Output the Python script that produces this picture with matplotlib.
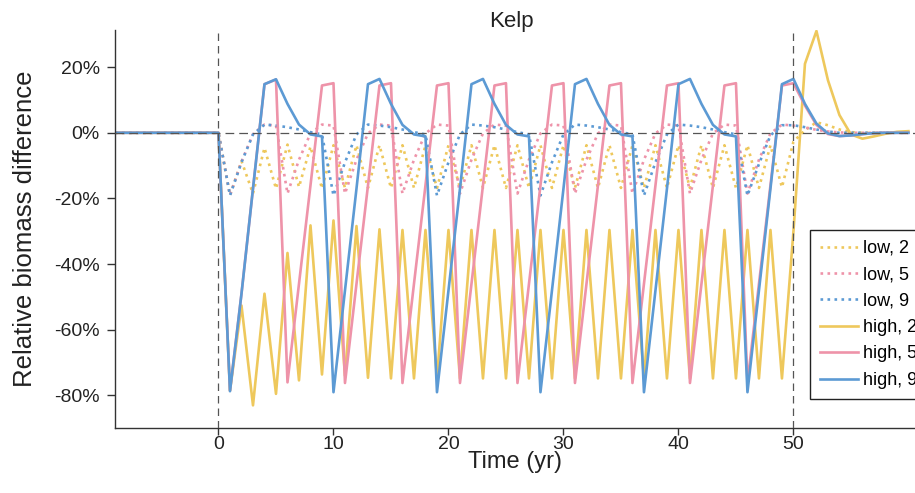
import matplotlib
matplotlib.use("Agg")
import matplotlib.pyplot as plt
from matplotlib.ticker import FuncFormatter

plt.rcParams['font.family'] = ['Liberation Sans', 'DejaVu Sans']

# years -9 .. 60
years = list(range(-9, 61))

# relative biomass difference (%)
pre = [0, 0, 0, 0, 0, 0, 0, 0, 0]

low_2 = pre + [0, -19.0, -8.6, -18.5, -4.6, -17.0, -3.6, -16.5, -4.2, -17.0,
               -3.8, -16.8, -3.8, -16.8, -3.8, -16.8, -3.8, -16.8, -3.8, -16.8,
               -3.8, -16.8, -3.8, -16.8, -3.8, -16.8, -3.8, -16.8, -3.8, -16.8,
               -3.8, -16.8, -3.8, -16.8, -3.8, -16.8, -3.8, -16.8, -3.8, -16.8,
               -3.8, -16.8, -3.8, -16.8, -3.8, -16.8, -3.8, -16.8, -3.8, -16.6,
               -2.7, 0.8, 3.2, 2.3, 1.0, 0.2, 0.0, 0.0, 0.0, 0.0, 0.0]

low_5 = pre + [0, -19.0, -8.8, -0.4, 2.5, 2.2, -18.5, -8.2, -0.2, 2.5,
               2.2, -18.5, -8.2, -0.2, 2.5, 2.2, -18.5, -8.2, -0.2, 2.5,
               2.2, -18.5, -8.2, -0.2, 2.5, 2.2, -18.5, -8.2, -0.2, 2.5,
               2.2, -18.5, -8.2, -0.2, 2.5, 2.2, -18.5, -8.2, -0.2, 2.5,
               2.2, -18.5, -8.2, -0.2, 2.5, 2.2, -18.5, -8.2, -0.2, 2.5,
               2.2, 1.6, 0.9, 0.4, 0.1, 0.0, 0.0, 0.0, 0.0, 0.0, 0.0]

low_9 = pre + [0, -19.1, -9.0, -0.5, 2.5, 2.2, 1.7, 1.0, 0.2, -0.5,
               -19.1, -9.0, -0.5, 2.5, 2.2, 1.7, 1.0, 0.2, -0.5,
               -19.1, -9.0, -0.5, 2.5, 2.2, 1.7, 1.0, 0.2, -0.5,
               -19.1, -9.0, -0.5, 2.5, 2.2, 1.7, 1.0, 0.2, -0.5,
               -19.1, -9.0, -0.5, 2.5, 2.2, 1.7, 1.0, 0.2, -0.5,
               -19.1, -9.5, -0.8, 2.3, 2.3, 1.7, 1.0, 0.4, 0.0,
               0.0, 0.0, 0.0, 0.0, 0.0, 0.0]

high_2 = pre + [0, -78.5, -52.6, -83.0, -49.0, -79.5, -36.6, -75.4, -28.2, -73.6,
                -26.7, -74.0, -28.4, -74.6, -29.4, -74.8, -29.6, -74.8, -29.6, -74.8,
                -29.6, -74.8, -29.6, -74.8, -29.6, -74.8, -29.6, -74.8, -29.6, -74.8,
                -29.6, -74.8, -29.6, -74.8, -29.6, -74.8, -29.6, -74.8, -29.6, -74.8,
                -29.6, -74.8, -29.6, -74.8, -29.6, -74.8, -29.6, -74.8, -29.6, -74.8,
                -30.0, 21.0, 31.0, 16.0, 5.4, -0.5, -1.8, -1.1, -0.3, 0.3, 0.5]

high_5 = pre + [0, -78.5, -49.0, -17.0, 14.8, 16.2, -76.0, -46.0, -16.0, 14.4,
                15.1, -76.2, -46.0, -16.0, 14.4, 15.1, -76.2, -46.0, -16.0, 14.4,
                15.1, -76.2, -46.0, -16.0, 14.4, 15.1, -76.2, -46.0, -16.0, 14.4,
                15.1, -76.2, -46.0, -16.0, 14.4, 15.1, -76.2, -46.0, -16.0, 14.4,
                15.1, -76.2, -46.0, -16.0, 14.4, 15.1, -76.2, -46.0, -16.0, 14.4,
                15.1, 8.3, 2.4, -0.4, -1.0, -0.8, -0.4, -0.1, 0.0, 0.0, 0.0]

high_9 = pre + [0, -78.7, -49.0, -17.0, 14.8, 16.3, 8.8, 2.5, -0.5, -1.1,
                -79.0, -48.0, -17.0, 14.8, 16.4, 8.8, 2.4, -0.5, -1.1,
                -79.0, -48.0, -17.0, 14.8, 16.4, 8.8, 2.4, -0.5, -1.1,
                -79.0, -48.0, -17.0, 14.8, 16.4, 8.8, 2.4, -0.5, -1.1,
                -79.0, -48.0, -17.0, 14.8, 16.4, 8.8, 2.4, -0.5, -1.1,
                -79.0, -48.0, -17.0, 14.8, 16.4, 8.8, 2.8, -0.2, -1.0,
                -0.8, -0.4, -0.1, 0.0, 0.0, 0.0]

yellow = '#EEC85C'
pink = '#EE93A9'
blue = '#5C9AD4'

series = [
    ('low, 2', low_2, yellow, ':'),
    ('low, 5', low_5, pink, ':'),
    ('low, 9', low_9, blue, ':'),
    ('high, 2', high_2, yellow, '-'),
    ('high, 5', high_5, pink, '-'),
    ('high, 9', high_9, blue, '-'),
]

fig = plt.figure(figsize=(9.15, 4.93), dpi=100)
ax = fig.add_axes([115 / 915, 1 - 428 / 493, 800 / 915, (428 - 30) / 493])

for label, vals, col, ls in series:
    ax.plot(years, vals, color=col, linestyle=ls, linewidth=1.9, label=label)

dash_col = '#555555'
ax.axhline(0, color=dash_col, linewidth=0.9, dashes=(7, 4), zorder=5)
ax.axvline(0, color=dash_col, linewidth=0.9, dashes=(6, 4), zorder=5)
ax.axvline(50, color=dash_col, linewidth=0.9, dashes=(6, 4), zorder=5)

ax.set_xlim(-9, 60.57)
ax.set_ylim(-89.9, 31.3)
ax.set_xticks([0, 10, 20, 30, 40, 50])
ax.set_yticks([-80, -60, -40, -20, 0, 20])
ax.yaxis.set_major_formatter(FuncFormatter(lambda v, p: '%d%%' % v))

for s in ['top', 'right']:
    ax.spines[s].set_visible(False)
for s in ['left', 'bottom']:
    ax.spines[s].set_color('#333333')
    ax.spines[s].set_linewidth(1.0)
ax.tick_params(direction='out', length=6, width=1.0, color='#333333',
               labelsize=14, labelcolor='#222222')
ax.tick_params(axis='y', pad=5)
ax.tick_params(axis='x', length=5, pad=0.5)

fig.text(511 / 915, 1 - 22 / 493, 'Kelp', fontsize=16, color='#222222',
         ha='center', va='center')
ax.set_xlabel('Time (yr)', fontsize=17, color='#222222', labelpad=-1)
ax.set_ylabel('Relative biomass difference', fontsize=18.5, color='#222222', labelpad=12)

leg = ax.legend(loc='upper left', bbox_to_anchor=(810 / 915, 1 - 230 / 493),
                bbox_transform=fig.transFigure, borderaxespad=0, fontsize=13,
                frameon=True, fancybox=False, framealpha=1, edgecolor='#222222',
                handlelength=2.1, handletextpad=0.3, labelspacing=0.52,
                borderpad=0.55)
leg.get_frame().set_linewidth(1.0)

fig.savefig('out.png', dpi=100)
